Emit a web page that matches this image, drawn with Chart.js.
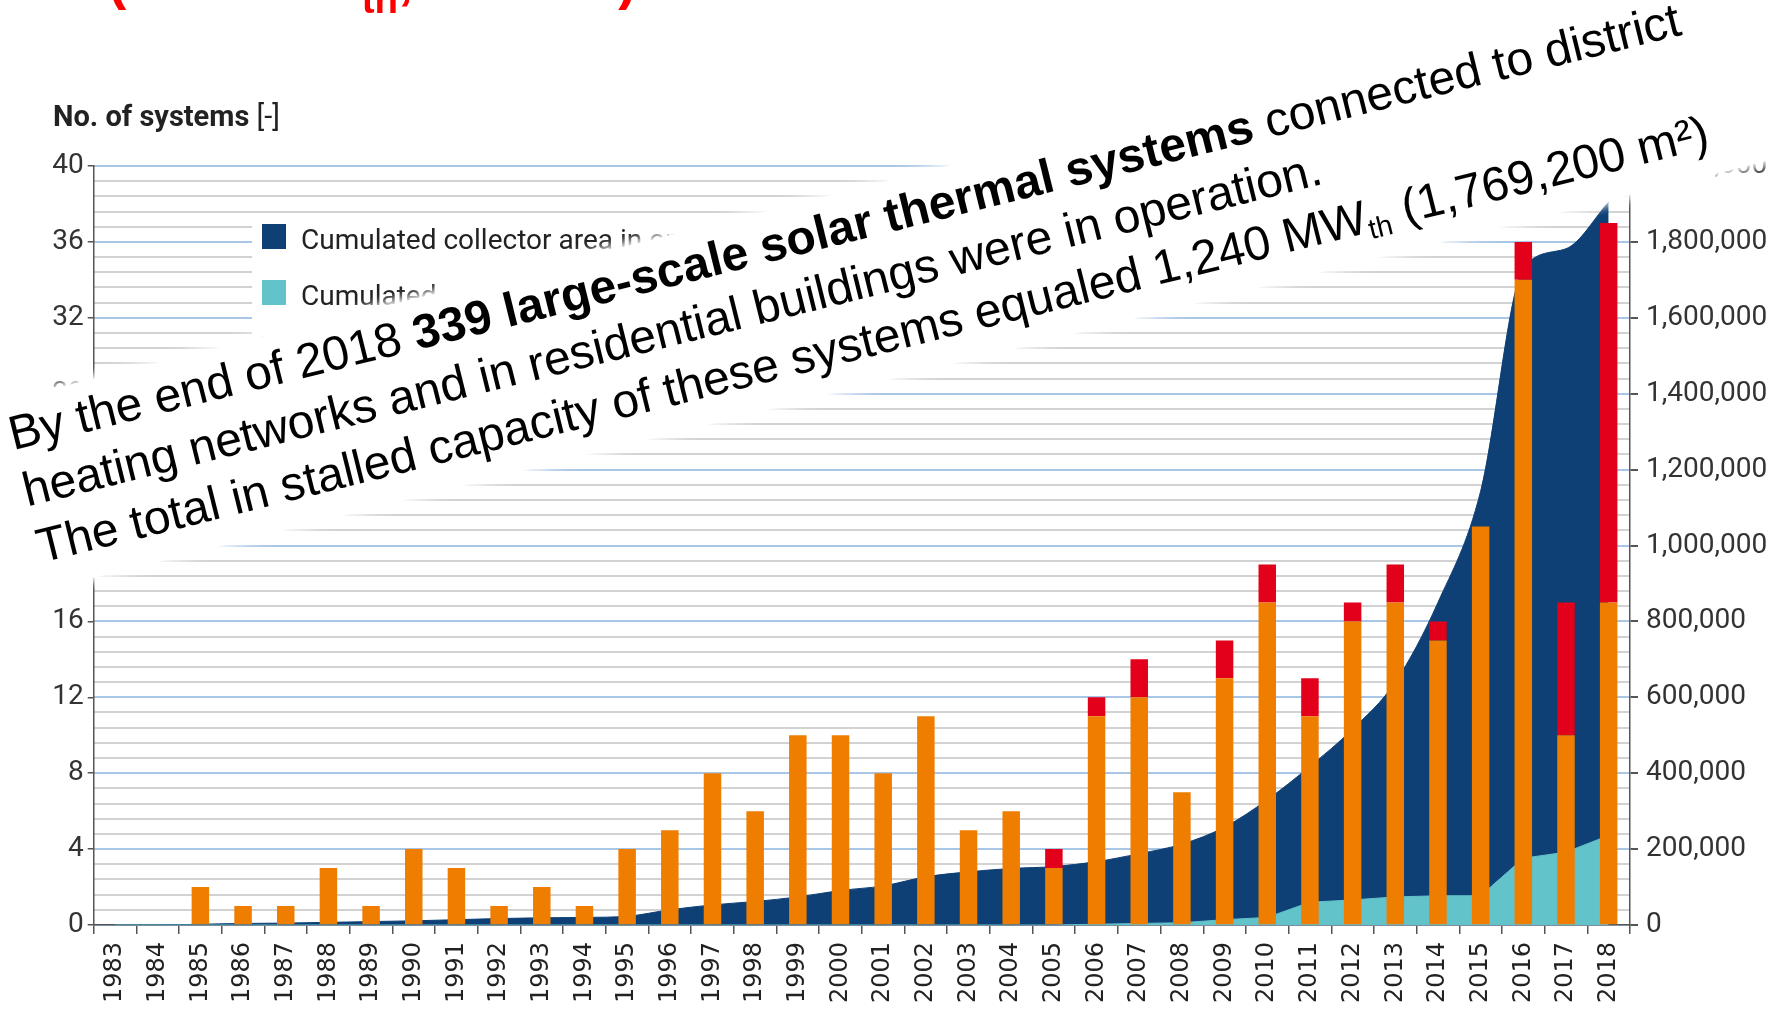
<!DOCTYPE html>
<html>
<head>
<meta charset="utf-8">
<script src="https://cdn.jsdelivr.net/npm/chart.js@4.4.1/dist/chart.umd.min.js"></script>
<style>
  html, body { margin: 0; padding: 0; background: #fff; }
  #page { position: relative; width: 1791px; height: 1010px; overflow: hidden; background: #fff; }
  #chartBox { position: absolute; left: 0; top: 0; width: 1791px; height: 1010px; }
  #red { position: absolute; left: 108px; top: -48px; font: 700 55px 'Liberation Sans', Arial, sans-serif; line-height: 55px; color: #ff0000; white-space: nowrap; }
  #red sub { font-size: 0.7em; line-height: 0; vertical-align: -15px; }
  #yTitle { position: absolute; left: 53px; top: 102px; font: 700 29px Roboto, sans-serif; line-height: 29px; color: #222; white-space: nowrap; }
  #yTitle span { font-weight: 400; }
  #legend { position: absolute; left: 252px; top: 219px; width: 560px; height: 160px; background: #fff; }
  #legend .sw { position: absolute; left: 10px; width: 24px; height: 25px; }
  #legend .tx { position: absolute; left: 49px; font: 28px Roboto, sans-serif; line-height: 28px; color: #222; white-space: nowrap; }
  #note { position: absolute; left: -60px; top: 417px; width: 2100px; height: 193px; box-sizing: border-box;
          padding: 5px 0 0 63px; transform-origin: 0 0; transform: rotate(-13.98deg); background: #fff;
          box-shadow: 0 0 10px 4px #fff; font: 48px 'Liberation Sans', Arial, sans-serif; line-height: 58px;
          color: #000; white-space: nowrap; }
  #note sub { font-size: 0.6em; line-height: 0; vertical-align: -0.25em; }
</style>
</head>
<body>
<div id="page">
  <div id="chartBox"><canvas id="myChart"></canvas></div>
  <div id="red">(1240 MW<sub>th</sub>, 1.8 km²)</div>
  <div id="yTitle">No. of systems <span>[-]</span></div>
  <div id="legend"></div>
  <div id="note">
    <div>By the end of 2018 <b>339 large-scale solar thermal systems</b> connected to district</div>
    <div>heating networks and in residential buildings were in operation.</div>
    <div>The total in stalled capacity of these systems equaled 1,240 MW<sub>th</sub> (1,769,200 m²)</div>
  </div>
</div>
<script>
  const years = ["1983", "1984", "1985", "1986", "1987", "1988", "1989", "1990", "1991", "1992", "1993", "1994",
    "1995", "1996", "1997", "1998", "1999", "2000", "2001", "2002", "2003", "2004", "2005", "2006",
    "2007", "2008", "2009", "2010", "2011", "2012", "2013", "2014", "2015", "2016", "2017", "2018"];

  // new systems per year (left axis)
  const newResidential = [0, 0, 2, 1, 1, 3, 1, 4, 3, 1, 2, 1, 4, 5, 8, 6, 10, 10, 8, 11, 5, 6, 3, 11,
    12, 7, 13, 17, 11, 16, 17, 15, 21, 34, 10, 17];
  const newDistrict = [0, 0, 0, 0, 0, 0, 0, 0, 0, 0, 0, 0, 0, 0, 0, 0, 0, 0, 0, 0, 0, 0, 1, 1,
    2, 0, 2, 2, 2, 1, 2, 1, 0, 2, 7, 20];

  // cumulated collector area in m² (right axis)
  const areaTotal = [0, 0, 2000, 4000, 5000, 7000, 9000, 11000, 14000, 17000, 19000, 20000,
    23000, 40000, 53000, 62000, 74000, 91000, 103000, 127000, 140000, 149000, 154000, 167000,
    188000, 213000, 258000, 330000, 418000, 516000, 640000, 850000, 1143000, 1730000, 1782000, 1905000];
  const areaDistrict = [0, 0, 0, 0, 0, 0, 0, 0, 0, 0, 0, 0, 0, 0, 0, 0, 0, 0, 0, 0, 0, 0, 0, 2000,
    4000, 6000, 14000, 20000, 60000, 66000, 74000, 77000, 77000, 176000, 192000, 236000];

  const leftTicks = [0, 4, 8, 12, 16, 20, 24, 28, 32, 36, 40];
  const rightTicks = [0, 200000, 400000, 600000, 800000, 1000000, 1200000, 1400000, 1600000, 1800000, 2000000];

  const legendLabels = [
    "Cumulated collector area in operation [m²]",
    "Cumulated collector area in district heating [m²]",
    "New systems in residential buildings",
    "District heating systems"
  ];
  const legendColors = ["#0e4075", "#63c3cb", "#ee7d00", "#e2001a"];

  Chart.defaults.font.family = "Roboto, sans-serif";
  Chart.defaults.color = "#333";

  const data = {
    labels: years,
    datasets: [
      { type: "bar", label: legendLabels[2], data: newResidential, backgroundColor: legendColors[2],
        yAxisID: "y", stack: "n", order: 0, barPercentage: 0.41, categoryPercentage: 1 },
      { type: "bar", label: legendLabels[3], data: newDistrict, backgroundColor: legendColors[3],
        yAxisID: "y", stack: "n", order: 0, barPercentage: 0.41, categoryPercentage: 1 },
      { type: "line", label: legendLabels[1], data: areaDistrict, yAxisID: "y2",
        backgroundColor: legendColors[1], borderColor: legendColors[1], borderWidth: 1,
        pointRadius: 0, fill: "origin", tension: 0, order: 1 },
      { type: "line", label: legendLabels[0], data: areaTotal, yAxisID: "y2",
        backgroundColor: legendColors[0], borderColor: legendColors[0], borderWidth: 1,
        pointRadius: 0, fill: "origin", cubicInterpolationMode: "monotone", order: 2 }
    ]
  };

  const config = {
    type: "bar",
    data: data,
    options: {
      responsive: true,
      maintainAspectRatio: false,
      animation: false,
      layout: { padding: { top: 166, left: 0, right: 0, bottom: 0 } },
      plugins: { legend: { display: false }, tooltip: { enabled: false } },
      scales: {
        x: {
          stacked: true,
          offset: true,
          grid: { offset: true, drawOnChartArea: false, tickLength: 9, tickColor: "#555", lineWidth: 1.5 },
          border: { color: "#555", width: 1.5 },
          ticks: { minRotation: 90, maxRotation: 90, autoSkip: false, padding: 8, color: "#222",
                   font: { family: "'DejaVu Sans', sans-serif", size: 24 } },
          afterFit: function(s) { s.height = 85; }
        },
        y: {
          position: "left",
          stacked: true,
          min: 0,
          max: 40,
          grid: { drawOnChartArea: false, tickLength: 6, tickColor: "#555", lineWidth: 1.5 },
          border: { color: "#555", width: 1.5 },
          ticks: { stepSize: 4, padding: 4, font: { size: 28 },
                   callback: function(v) { return leftTicks.includes(v) ? String(v) : ""; } },
          afterFit: function(s) { s.width = 93.7; }
        },
        y2: {
          position: "right",
          min: 0,
          max: 2000000,
          grid: {
            lineWidth: 2,
            tickLength: 8,
            color: function(ctx) { return rightTicks.includes(ctx.tick.value) ? "#a9c6e6" : "#d2d2d2"; },
            tickColor: function(ctx) { return rightTicks.includes(ctx.tick.value) ? "#555" : "rgba(0,0,0,0)"; }
          },
          border: { color: "#555", width: 1.5 },
          ticks: { stepSize: 40000, autoSkip: false, padding: 8, font: { size: 28 },
                   callback: function(v) { return rightTicks.includes(v) ? v.toLocaleString("en-US") : ""; } },
          afterFit: function(s) { s.width = 161; }
        }
      }
    }
  };

  var myChart = new Chart(document.getElementById("myChart"), config);

  // legend (mostly hidden behind the note)
  const legendBox = document.getElementById("legend");
  legendLabels.forEach(function(text, i) {
    const sw = document.createElement("div");
    sw.className = "sw";
    sw.style.top = (5 + 56 * i) + "px";
    sw.style.background = legendColors[i];
    const tx = document.createElement("div");
    tx.className = "tx";
    tx.style.top = (7 + 56 * i) + "px";
    tx.textContent = text;
    legendBox.appendChild(sw);
    legendBox.appendChild(tx);
  });
</script>
</body>
</html>
